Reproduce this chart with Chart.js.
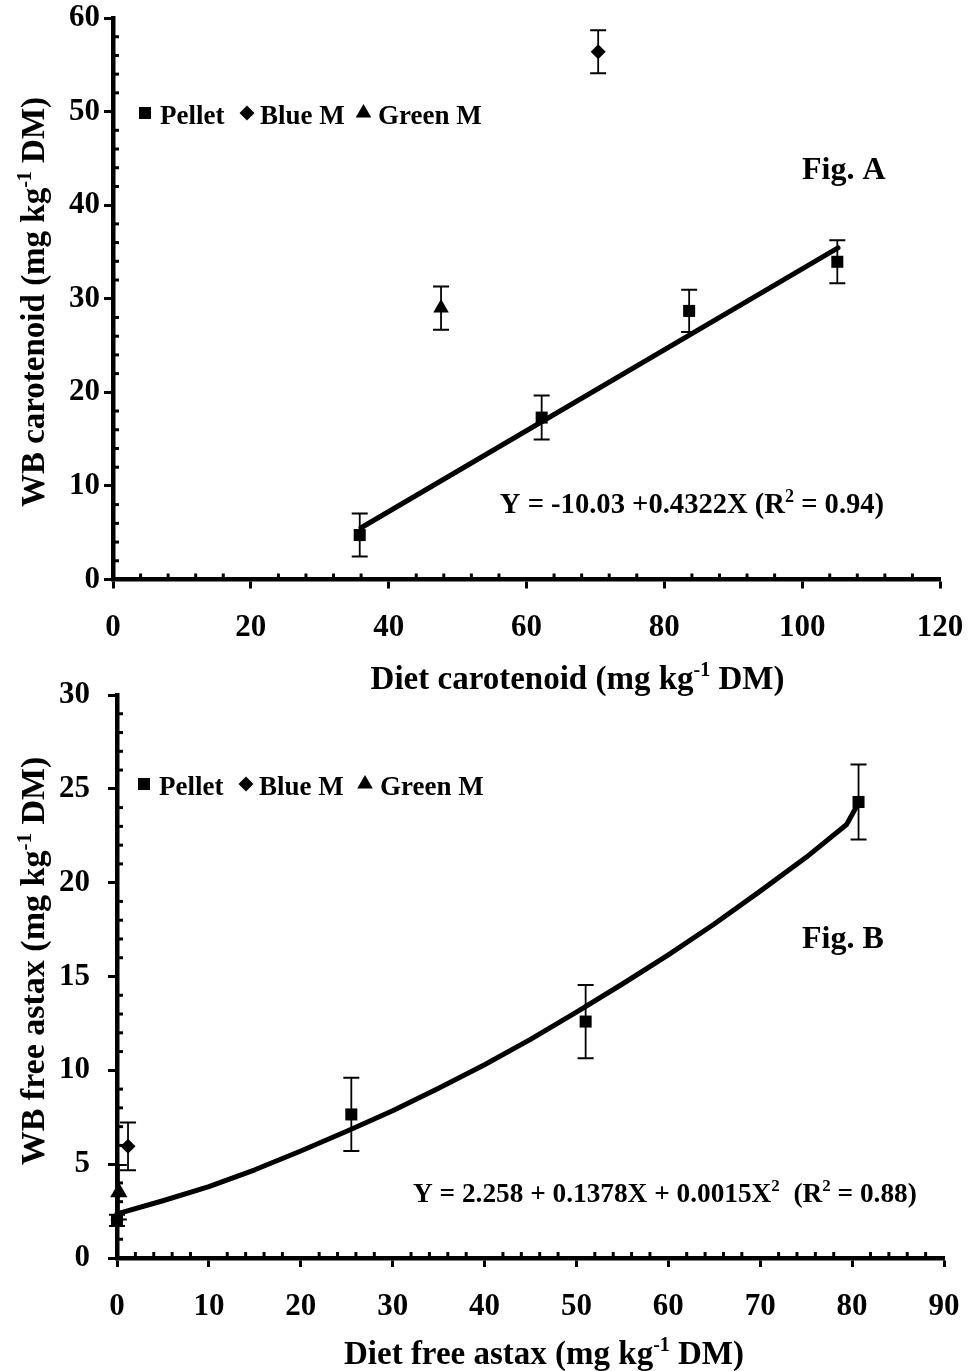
<!DOCTYPE html>
<html>
<head>
<meta charset="utf-8">
<script src="https://cdn.jsdelivr.net/npm/chart.js@4.4.1/dist/chart.umd.min.js"></script>
<style>
  html, body { margin: 0; padding: 0; background: #fff; }
  body { width: 968px; height: 1371px; position: relative; overflow: hidden; }
  canvas { position: absolute; left: 0; }
  #figA { top: 0; }
  #figB { top: 665px; }
</style>
</head>
<body>
<canvas id="figA" width="968" height="705"></canvas>
<canvas id="figB" width="968" height="706"></canvas>
<script>
// ---------- Fig. A: whole-body carotenoid vs. diet carotenoid ----------
const aPelletX   = [35.8, 62.2, 83.6, 105.1];
const aPelletY   = [4.75, 17.3, 28.7, 33.95];
const aPelletErr = [2.3, 2.35, 2.25, 2.3];
const aBlueX     = [70.4];
const aBlueY     = [56.4];
const aBlueErr   = [2.3];
const aGreenX    = [47.6];
const aGreenY    = [29.0];
const aGreenErr  = [2.3];
// regression line Y = -10.03 + 0.4322X, drawn over the pellet range
const aFitX      = [36, 105.2];
const aFitY      = [5.53, 35.44];
const aXTicks    = [0, 20, 40, 60, 80, 100, 120];
const aYTicks    = [0, 10, 20, 30, 40, 50, 60];

// ---------- Fig. B: whole-body free astaxanthin vs. diet free astaxanthin ----------
const bPelletX   = [0, 25.5, 51.0, 80.7];
const bPelletY   = [2.0, 7.65, 12.6, 24.3];
const bPelletErr = [0.3, 1.95, 1.95, 2.0];
const bBlueX     = [1.2];
const bBlueY     = [5.95];
const bBlueErr   = [1.27];
const bGreenX    = [0.2];
const bGreenY    = [3.5];
const bGreenErr  = [1.45];
// quadratic fit Y = 2.258 + 0.1378X + 0.0015X^2
const bFitX      = [0, 5, 10, 15, 20, 25, 30, 35, 40, 45, 50, 55, 60, 65, 70, 75, 79.4, 80.7];
const bFitY      = [2.35, 3.05, 3.8, 4.7, 5.7, 6.75, 7.85, 9.05, 10.3, 11.65, 13.1, 14.6, 16.15, 17.8, 19.55, 21.35, 23.1, 24.25];
const bXTicks    = [0, 10, 20, 30, 40, 50, 60, 70, 80, 90];
const bYTicks    = [0, 5, 10, 15, 20, 25, 30];

const seriesNames = ['Pellet', 'Blue M', 'Green M'];

const FAMILY = '"Liberation Serif", "Times New Roman", Times, serif';
const TICK_FONT = { family: FAMILY, size: 31, weight: 'bold', lineHeight: 1 };

function pts(xs, ys) { return xs.map((x, i) => ({ x: x, y: ys[i] })); }

// vertical error bars with caps, computed through the chart scales
const errorBarPlugin = {
  id: 'errorBars',
  beforeDatasetsDraw(chart) {
    const ctx = chart.ctx, xs = chart.scales.x, ys = chart.scales.y;
    ctx.save();
    ctx.strokeStyle = '#000';
    chart.data.datasets.forEach(ds => {
      if (!ds.errorBars) return;
      ds.data.forEach((p, i) => {
        const e = ds.errorBars[i];
        const px = xs.getPixelForValue(p.x);
        const top = ys.getPixelForValue(p.y + e);
        const bot = ys.getPixelForValue(p.y - e);
        ctx.lineWidth = 1.8;
        ctx.beginPath(); ctx.moveTo(px, top); ctx.lineTo(px, bot); ctx.stroke();
        ctx.lineWidth = 2;
        ctx.beginPath();
        ctx.moveTo(px - 8, top); ctx.lineTo(px + 8, top);
        ctx.moveTo(px - 8, bot); ctx.lineTo(px + 8, bot);
        ctx.stroke();
      });
    });
    ctx.restore();
  }
};

// short minor ticks pointing into the plot area
const minorTickPlugin = {
  id: 'minorTicks',
  afterDraw(chart, args, opts) {
    const ctx = chart.ctx, area = chart.chartArea;
    ctx.save();
    ctx.strokeStyle = '#000';
    ctx.lineWidth = 3;
    ['x', 'y'].forEach(id => {
      const s = chart.scales[id], o = opts[id];
      const n = Math.round((s.max - s.min) / o.step);
      for (let k = 1; k < n; k++) {
        const v = s.min + k * o.step;
        if (Math.abs(v / o.major - Math.round(v / o.major)) < 1e-6) continue;
        const p = s.getPixelForValue(v);
        ctx.beginPath();
        if (id === 'x') { ctx.moveTo(p, area.bottom); ctx.lineTo(p, area.bottom - o.len); }
        else { ctx.moveTo(area.left, p); ctx.lineTo(area.left + o.len, p); }
        ctx.stroke();
      }
    });
    ctx.restore();
  }
};

// text with superscripts: parts = [{t, sup}]
function drawRich(ctx, it) {
  const size = it.size, sup = Math.round(size * 0.62);
  ctx.save();
  ctx.translate(it.x, it.y);
  if (it.rotate) ctx.rotate(-Math.PI / 2);
  ctx.fillStyle = '#000';
  ctx.textAlign = 'left';
  ctx.textBaseline = 'alphabetic';
  let total = 0;
  const w = it.parts.map(p => {
    ctx.font = 'bold ' + (p.sup ? sup : size) + 'px ' + FAMILY;
    const m = ctx.measureText(p.t).width;
    total += m;
    return m;
  });
  let cx = it.align === 'left' ? 0 : -total / 2;
  const base = it.baseline ? 0 : size * 0.32;
  it.parts.forEach((p, i) => {
    ctx.font = 'bold ' + (p.sup ? sup : size) + 'px ' + FAMILY;
    ctx.fillText(p.t, cx, base - (p.sup ? size * 0.38 : 0));
    cx += w[i];
  });
  ctx.restore();
}

const styles = [
  { pointStyle: 'rect', radius: 8.5 },
  { pointStyle: 'rectRot', radius: 7.5 },
  { pointStyle: 'triangle', radius: 9 }
];

const textPlugin = {
  id: 'annot',
  afterDraw(chart, args, opts) {
    const ctx = chart.ctx;
    opts.items.forEach(it => drawRich(ctx, it));
    // legend row
    const lg = opts.legend;
    ctx.save();
    ctx.fillStyle = '#000';
    seriesNames.forEach((name, i) => {
      Chart.helpers.drawPoint(ctx, { pointStyle: styles[i].pointStyle, radius: lg.r[i], rotation: 0, borderWidth: 0 },
        lg.markerX[i], lg.markerY);
      ctx.font = 'bold 27px ' + FAMILY;
      ctx.textAlign = 'left';
      ctx.textBaseline = 'alphabetic';
      ctx.fillText(name, lg.textX[i], lg.baseY);
    });
    ctx.restore();
  }
};

function noScalePadding(s) {
  s.paddingLeft = 0; s.paddingRight = 0; s.paddingTop = 0; s.paddingBottom = 0;
}

function makeChart(id, cfg) {
  const pointDs = (label, xs, ys, errs, k, r) => ({
    label: label, data: pts(xs, ys), errorBars: errs,
    pointStyle: styles[k].pointStyle, pointRadius: r, pointBorderWidth: 0,
    backgroundColor: '#000', borderColor: '#000', showLine: false, clip: false
  });
  return new Chart(document.getElementById(id), {
    type: 'scatter',
    data: {
      datasets: [
        pointDs(seriesNames[0], cfg.pX, cfg.pY, cfg.pE, 0, 8.5),
        pointDs(seriesNames[1], cfg.bX, cfg.bY, cfg.bE, 1, 7.5),
        pointDs(seriesNames[2], cfg.gX, cfg.gY, cfg.gE, 2, cfg.triR),
        { label: 'fit', data: pts(cfg.fX, cfg.fY), showLine: true, pointRadius: 0,
          borderColor: '#000', borderWidth: 5, tension: 0, clip: false, borderJoinStyle: 'round', borderCapStyle: 'round' }
      ]
    },
    options: {
      responsive: false, animation: false, events: [],
      layout: { padding: cfg.padding },
      plugins: {
        legend: { display: false }, tooltip: { enabled: false },
        minorTicks: cfg.minor,
        annot: { items: cfg.items, legend: cfg.legend }
      },
      scales: {
        x: {
          type: 'linear', min: cfg.xTicks[0], max: cfg.xTicks[cfg.xTicks.length - 1],
          afterBuildTicks(s) { s.ticks = cfg.xTicks.map(v => ({ value: v })); },
          afterFit(s) { s.height = cfg.xH; noScalePadding(s); },
          ticks: { font: TICK_FONT, color: '#000', padding: cfg.xPad, maxRotation: 0, autoSkip: false },
          grid: { display: true, drawOnChartArea: false, drawTicks: true, tickLength: 9, tickWidth: 3, tickColor: '#000', color: '#000' },
          border: { display: true, width: 4.5, color: '#000' }
        },
        y: {
          type: 'linear', min: cfg.yTicks[0], max: cfg.yTicks[cfg.yTicks.length - 1],
          afterBuildTicks(s) { s.ticks = cfg.yTicks.map(v => ({ value: v })); },
          afterFit(s) { s.width = cfg.yW; noScalePadding(s); },
          ticks: { font: TICK_FONT, color: '#000', padding: cfg.yPad, autoSkip: false },
          grid: { display: true, drawOnChartArea: false, drawTicks: true, tickLength: 9, tickWidth: 3, tickColor: '#000', color: '#000' },
          border: { display: true, width: 4.5, color: '#000' }
        }
      }
    },
    plugins: [errorBarPlugin, minorTickPlugin, textPlugin]
  });
}

const unitParts = (lead) => [{ t: lead + ' (mg kg' }, { t: '-1', sup: true }, { t: ' DM)' }];

makeChart('figA', {
  pX: aPelletX, pY: aPelletY, pE: aPelletErr,
  bX: aBlueX, bY: aBlueY, bE: aBlueErr,
  gX: aGreenX, gY: aGreenY, gE: aGreenErr, triR: 9,
  fX: aFitX, fY: aFitY,
  xTicks: aXTicks, yTicks: aYTicks,
  padding: { top: 18, right: 28, left: 0, bottom: 0 },
  xH: 125.5, yW: 113, xPad: 24, yPad: 4,
  minor: { x: { step: 4, major: 20, len: 6 }, y: { step: 2, major: 10, len: 6 } },
  legend: { markerX: [145, 247, 363.5], markerY: 113, r: [8.5, 7.5, 9], textX: [160, 260, 378], baseY: 124 },
  items: [
    { parts: unitParts('WB carotenoid'), x: 33, y: 302, size: 33, rotate: true },
    { parts: unitParts('Diet carotenoid'), x: 577.5, y: 678, size: 33 },
    { parts: [{ t: 'Fig. A' }], x: 802, y: 179, size: 32, align: 'left', baseline: true },
    { parts: [{ t: 'Y = -10.03 +0.4322X (R' }, { t: '2', sup: true }, { t: ' = 0.94)' }], x: 692, y: 513, size: 28.6, baseline: true }
  ]
});

makeChart('figB', {
  pX: bPelletX, pY: bPelletY, pE: bPelletErr,
  bX: bBlueX, bY: bBlueY, bE: bBlueErr,
  gX: bGreenX, gY: bGreenY, gE: bGreenErr, triR: 10,
  fX: bFitX, fY: bFitY,
  xTicks: bXTicks, yTicks: bYTicks,
  padding: { top: 30, right: 24, left: 0, bottom: 0 },
  xH: 113, yW: 117, xPad: 24, yPad: 18,
  minor: { x: { step: 2, major: 10, len: 6 }, y: { step: 1, major: 5, len: 6 } },
  legend: { markerX: [144, 246, 365], markerY: 119, r: [8.5, 7.5, 9], textX: [159, 259, 380], baseY: 130 },
  items: [
    { parts: unitParts('WB free astax'), x: 33, y: 296, size: 34, rotate: true },
    { parts: unitParts('Diet free astax'), x: 544, y: 688, size: 33 },
    { parts: [{ t: 'Fig. B' }], x: 802, y: 283, size: 32, align: 'left', baseline: true },
    { parts: [{ t: 'Y = 2.258 + 0.1378X + 0.0015X' }, { t: '2', sup: true }, { t: '  (R' }, { t: '2', sup: true }, { t: ' = 0.88)' }], x: 413, y: 536.7, size: 27.3, align: 'left', baseline: true }
  ]
});
</script>
</body>
</html>
